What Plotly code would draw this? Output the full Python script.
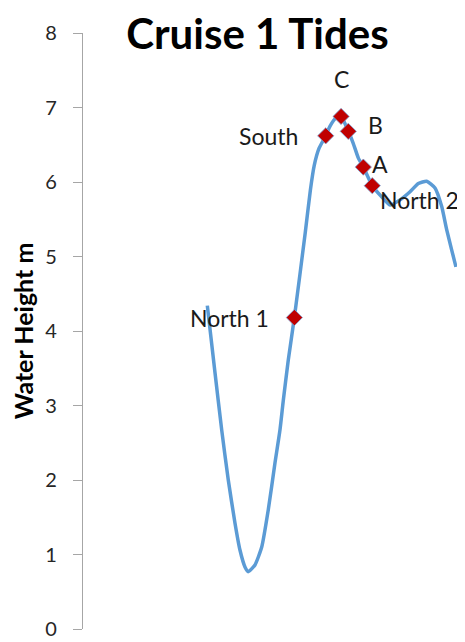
import plotly.graph_objects as go

# Tide curve (hours, water height m)
hours = [7.77, 8.25, 8.67, 9.08, 9.5, 9.81, 10.13, 10.33, 10.75, 11.17, 11.58, 12.0,
         12.31, 12.52, 12.83, 13.21, 13.89, 14.21, 14.45, 14.75, 15.17, 15.44, 15.81,
         16.13, 16.58, 16.89, 17.21, 17.52, 18.08, 18.67, 19.19, 19.81, 20.44, 20.96,
         21.48, 22.0, 22.42, 22.73, 23.04, 23.31]
height = [4.34, 3.44, 2.67, 2.0, 1.42, 1.06, 0.83, 0.77, 0.86, 1.10, 1.60, 2.23,
          2.67, 3.07, 3.61, 4.18, 5.32, 5.89, 6.22, 6.45, 6.62, 6.75, 6.86,
          6.88, 6.68, 6.52, 6.32, 6.20, 5.95, 5.80, 5.69, 5.76, 5.87, 5.98,
          6.01, 5.92, 5.67, 5.36, 5.09, 4.86]

# Sampling stations
station_names = ["North 1", "South", "C", "B", "A", "North 2"]
station_hours = [13.21, 15.17, 16.13, 16.58, 17.52, 18.08]
station_height = [4.18, 6.62, 6.88, 6.68, 6.20, 5.95]

y_ticks = [0, 1, 2, 3, 4, 5, 6, 7, 8]

label_dx = [-65, -57, 0, 27, 17, 47]
label_dy = [0, 0, 37, 6, 3, -14]

FONT = "Lato, Liberation Sans, sans-serif"

fig = go.Figure()
fig.add_trace(go.Scatter(x=hours, y=height, mode="lines",
                         line=dict(color="#5B9BD5", width=3.5, shape="spline", smoothing=0.5),
                         hoverinfo="skip", showlegend=False))
fig.add_trace(go.Scatter(x=station_hours, y=station_height, mode="markers",
                         marker=dict(symbol="diamond", size=12.5, color="#C00000",
                                     line=dict(color="#7FA7D8", width=0.8)),
                         showlegend=False))

for name, hx, hy, dx, dy in zip(station_names, station_hours, station_height, label_dx, label_dy):
    fig.add_annotation(x=hx, y=hy, text=name, showarrow=False, xshift=dx, yshift=dy,
                       font=dict(family=FONT, size=23, color="#1a1a1a"))

W, H = 457, 634
fig.update_layout(
    width=W, height=H,
    margin=dict(l=75, r=0, t=25, b=13),
    paper_bgcolor="white", plot_bgcolor="white",
    title=dict(text="<b>Cruise 1 Tides</b>", x=249.5 / W, xanchor="center", xref="container",
               y=1 - 26 / H, yanchor="middle", yref="container",
               font=dict(family=FONT, size=42, color="black")),
)
fig.update_xaxes(range=[0, 23.875], visible=False, showgrid=False, zeroline=False)
fig.update_yaxes(range=[0, 8], tickvals=y_ticks, showgrid=False, zeroline=False,
                 showline=True, linecolor="#A6A6A6", linewidth=1.3,
                 ticks="outside", ticklen=9, tickcolor="#A6A6A6", tickwidth=1.3,
                 ticklabelstandoff=12,
                 tickfont=dict(family=FONT, size=20, color="#262626"),
                 title=dict(text="<b>Water Height m</b>", standoff=11,
                            font=dict(family=FONT, size=25, color="black")))

fig.write_html("out.html")
